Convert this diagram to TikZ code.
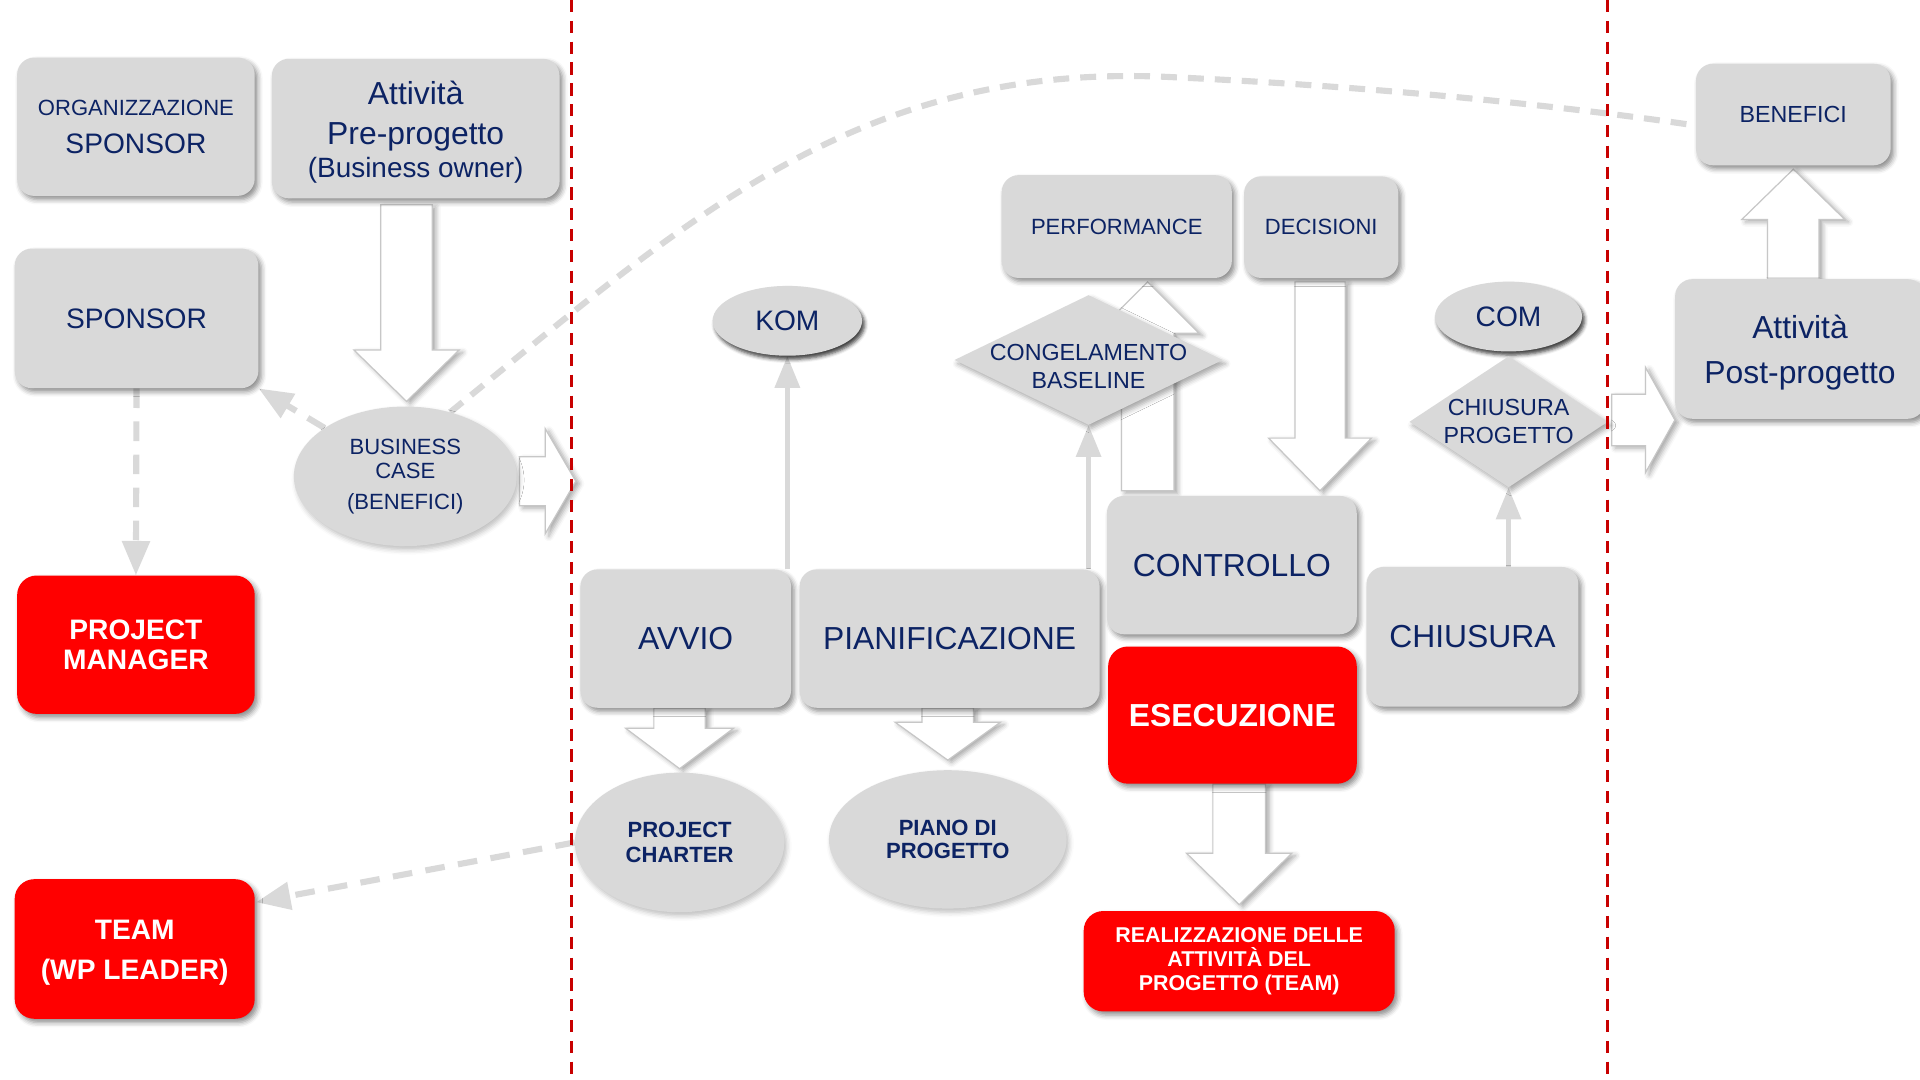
\documentclass[tikz,border=0pt]{standalone}
\usepackage{fontspec}
\setmainfont{Liberation Sans}
\usetikzlibrary{shapes.geometric,arrows.meta,calc,shadows.blur}
\definecolor{navy}{RGB}{12,35,100}
\definecolor{boxgray}{RGB}{217,217,217}
\definecolor{bgarrow}{RGB}{242,242,242}
\definecolor{redbox}{RGB}{255,0,0}
\definecolor{redline}{RGB}{200,0,0}
\definecolor{lightline}{RGB}{217,217,217}
\pgfdeclarelayer{back}\pgfdeclarelayer{bg}\pgfdeclarelayer{fg}
\pgfsetlayers{back,bg,main,fg}
\tikzset{
  sh/.style={blur shadow={shadow xshift=2.5pt, shadow yshift=-3pt, shadow blur radius=4pt, shadow opacity=45}},
  gbox/.style={rectangle, rounded corners=14pt, fill=boxgray, text=navy, inner sep=0pt, align=center, sh},
  rbox/.style={rectangle, rounded corners=16pt, fill=redbox, text=white, inner sep=0pt, align=center, sh},
  gell/.style={ellipse, fill=boxgray, text=navy, inner sep=0pt, align=center,
     blur shadow={shadow xshift=2pt, shadow yshift=-3pt, shadow blur radius=4pt, shadow opacity=25}},
  kell/.style={ellipse, fill=boxgray, text=navy, inner sep=0pt, align=center,
     blur shadow={shadow xshift=2pt, shadow yshift=-3pt, shadow blur radius=3pt, shadow opacity=75}},
  diam/.style={diamond, fill=boxgray, inner sep=0pt,
     blur shadow={shadow xshift=2.5pt, shadow yshift=-3pt, shadow blur radius=4pt, shadow opacity=35}},
  dtext/.style={text=navy, align=center, inner sep=0pt, font=\fontsize{19}{23}\selectfont},
  ntext/.style={text=navy, align=center, inner sep=0pt},
  wtext/.style={text=white, align=center, inner sep=0pt},
  blk/.style={fill=white, draw=black!22, line width=1pt,
     blur shadow={shadow xshift=3pt, shadow yshift=-2pt, shadow blur radius=4pt, shadow opacity=35}},
  thinarr/.style={draw=lightline, line width=4pt, -{Triangle[width=20pt,length=26pt]}},
  dasharr/.style={draw=lightline, line width=5pt, dash pattern=on 16pt off 11pt, -{Triangle[width=22pt,length=28pt]}},
  dashcurve/.style={draw=lightline, line width=5pt, dash pattern=on 13pt off 9pt},
  redvline/.style={draw=redline, line width=2.2pt, dash pattern=on 10pt off 7pt},
}
% block arrows: #1 start, #2 tip, #3 half shaft, #4 half head, #5 head length
\newcommand\downblk[5]{\draw[blk] let \p1=(#1), \p2=(#2) in (\x1-#3,\y1) -- (\x1-#3,\y2+#5) -- (\x1-#4,\y2+#5) -- (\x1,\y2) -- (\x1+#4,\y2+#5) -- (\x1+#3,\y2+#5) -- (\x1+#3,\y1) -- cycle;}
\newcommand\upblk[5]{\draw[blk] let \p1=(#1), \p2=(#2) in (\x1-#3,\y1) -- (\x1-#3,\y2-#5) -- (\x1-#4,\y2-#5) -- (\x1,\y2) -- (\x1+#4,\y2-#5) -- (\x1+#3,\y2-#5) -- (\x1+#3,\y1) -- cycle;}
\newcommand\rightblk[5]{\draw[blk] let \p1=(#1), \p2=(#2) in (\x1,\y1-#3) -- (\x2-#5,\y1-#3) -- (\x2-#5,\y1-#4) -- (\x2,\y1) -- (\x2-#5,\y1+#4) -- (\x2-#5,\y1+#3) -- (\x1,\y1+#3) -- cycle;}

\begin{document}
\begin{tikzpicture}[x=1pt,y=-1pt]
\path[use as bounding box] (0,0) rectangle (1568,882);

% big background process arrow
\begin{pgfonlayer}{back}
\fill[bgarrow] (467,388) -- (1160,388) -- (1160,278) -- (1312,521) -- (1160,764) -- (1160,653) -- (467,653) -- cycle;
\end{pgfonlayer}

% ---------- nodes ----------
\node[gbox, minimum width=194pt, minimum height=113pt, font=\fontsize{23}{31}\selectfont] (org) at (111,103.5)
  {{\fontsize{18}{18}\selectfont ORGANIZZAZIONE}\\SPONSOR};
\node[gbox, minimum width=235pt, minimum height=114pt,
  label={[ntext, yshift=-3pt, font=\fontsize{26}{32}\selectfont]center:{Attività\\Pre-progetto\\[-5pt]{\fontsize{22.8}{27}\selectfont (Business owner)}}}] (pre) at (339.5,105) {};
\node[gbox, minimum width=199pt, minimum height=114pt, font=\fontsize{23}{28}\selectfont] (sp) at (111.5,260) {SPONSOR};
\node[rbox, minimum width=194pt, minimum height=113pt, font=\bfseries\fontsize{23}{25}\selectfont] (pm) at (111,526.5) {PROJECT\\MANAGER};
\node[rbox, minimum width=196pt, minimum height=114pt,
  label={[wtext, yshift=-3pt, font=\bfseries\fontsize{23}{33}\selectfont]center:{TEAM\\(WP LEADER)}}] (team) at (110,775) {};
\node[gell, minimum width=182pt, minimum height=114pt, font=\fontsize{18}{20}\selectfont] (bc) at (331,389) {BUSINESS\\CASE\\[5pt](BENEFICI)};

\node[gbox, minimum width=172pt, minimum height=113pt, font=\fontsize{26}{30}\selectfont] (avvio) at (560,521.5) {AVVIO};
\node[gbox, minimum width=245pt, minimum height=113pt, font=\fontsize{26}{30}\selectfont] (pian) at (775.5,521.5) {PIANIFICAZIONE};
\node[gbox, minimum width=204pt, minimum height=113pt, font=\fontsize{26}{30}\selectfont] (ctrl) at (1006,461.5) {CONTROLLO};
\node[rbox, minimum width=203pt, minimum height=112pt, font=\bfseries\fontsize{26}{30}\selectfont] (ese) at (1006.5,584) {ESECUZIONE};
\node[gbox, minimum width=173pt, minimum height=114pt, font=\fontsize{26}{30}\selectfont] (chi) at (1202.5,520) {CHIUSURA};
\node[gbox, minimum width=188pt, minimum height=84pt, font=\fontsize{18}{22}\selectfont] (perf) at (912,185) {PERFORMANCE};
\node[gbox, minimum width=126pt, minimum height=83pt, font=\fontsize{18}{22}\selectfont] (dec) at (1079,185.5) {DECISIONI};
\node[kell, minimum width=122pt, minimum height=57pt, font=\fontsize{23}{27}\selectfont] (kom) at (643,262) {KOM};
\node[kell, minimum width=120pt, minimum height=57pt, font=\fontsize{23}{27}\selectfont] (com) at (1232,258.5) {COM};
\node[diam, minimum width=219pt, minimum height=106pt, label={[dtext, yshift=-5.5pt]center:{CONGELAMENTO\\BASELINE}}] (cb) at (889,294) {};
\node[diam, minimum width=162pt, minimum height=107pt, label={[dtext]center:{CHIUSURA\\PROGETTO}}] (cp) at (1232,344.5) {};
\node[gell, minimum width=171pt, minimum height=114pt, font=\bfseries\fontsize{18}{20}\selectfont] (pc) at (555,688) {PROJECT\\CHARTER};
\node[gell, minimum width=194pt, minimum height=113pt, font=\bfseries\fontsize{18}{19.5}\selectfont] (pp) at (774,685.5) {PIANO DI\\PROGETTO};
\node[rbox, minimum width=254pt, minimum height=82pt, font=\bfseries\fontsize{17.5}{19.5}\selectfont] (real) at (1012,785)
  {REALIZZAZIONE DELLE\\ATTIVITÀ DEL\\PROGETTO (TEAM)};
\node[gbox, minimum width=159pt, minimum height=83pt, font=\fontsize{19}{23}\selectfont] (ben) at (1464.5,93.5) {BENEFICI};
\node[gbox, minimum width=204pt, minimum height=114pt,
  label={[ntext, yshift=-3pt, font=\fontsize{26}{37}\selectfont]center:{Attività\\Post-progetto}}] (post) at (1470,285) {};

\coordinate (bcout) at ($(bc.east)+(48,4)$);
\coordinate (c5) at ($(ctrl.north west)+(33.5,-4)$);
\coordinate (c8) at ($(cp.east)+(3,-1.5)$);
\coordinate (teamin) at ($(team.north east)+(1,19)$);

% ---------- connectors ----------
\begin{pgfonlayer}{bg}
\draw[dashcurve] (bc.55) .. controls (560,180) and (700,50) .. (957,63) .. controls (1150,72) and (1300,90) .. ($(ben.west)+(0,9)$);

\draw[dasharr] (sp.south) -- (pm.north);
\draw[dasharr] (bc) -- (sp.south east);
\draw[dasharr] (pc.west) -- (teamin);

\draw[thinarr] (kom.south |- avvio.north) -- (kom.south);
\draw[thinarr] (cb.south |- pian.north) -- (cb.south);
\draw[thinarr] (cp.south |- chi.north) -- (cp.south);

\downblk{$(bc.north |- pre.south)+(1,5)$}{$(bc.north)+(1,-4)$}{21pt}{43pt}{42pt}
\rightblk{$(bc.east)+(2,4)$}{bcout}{20pt}{43pt}{25pt}
\downblk{pc.north |- avvio.south}{$(pc.north)+(0,-3)$}{21pt}{44pt}{33pt}
\downblk{pp.north |- pian.south}{$(pp.north)+(0,-8)$}{21pt}{43pt}{31pt}
\upblk{c5}{$(c5 |- perf.south)+(0,3)$}{21.5pt}{42pt}{42pt}
\downblk{$(dec.south)+(-1,3)$}{$(dec.south |- ctrl.north)+(-1,-4)$}{20.5pt}{42pt}{43pt}
\downblk{real.north |- ese.south}{$(real.north)+(0,-5)$}{21.5pt}{43pt}{42pt}
\rightblk{c8}{post.west |- c8}{21pt}{43pt}{24pt}
\upblk{ben.south |- post.north}{$(ben.south)+(0,3)$}{21pt}{42pt}{41pt}
\end{pgfonlayer}

% ---------- phase separators ----------
\begin{pgfonlayer}{fg}
\draw[redvline] (467,0) -- (467,882);
\draw[redvline] (1313,0) -- (1313,882);
\end{pgfonlayer}
\end{tikzpicture}
\end{document}
